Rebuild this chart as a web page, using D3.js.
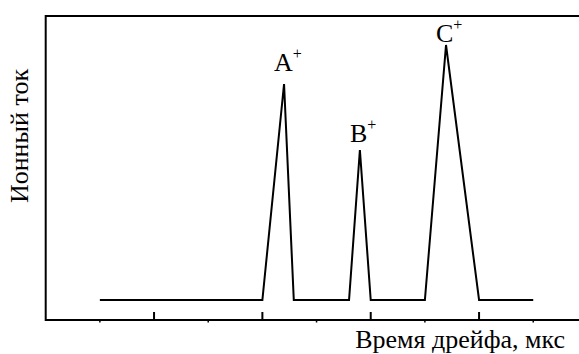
<!DOCTYPE html>
<html>
<head>
<meta charset="utf-8">
<script src="https://cdn.jsdelivr.net/npm/d3@7"></script>
</head>
<body style="margin:0">
<script>
// drift time (arbitrary units) and ion current
const driftTime = [1, 4, 4.4, 4.58, 5.6, 5.8, 6, 7, 7.39, 8, 9];
const ionCurrent = [1, 1, 11.8, 1, 1, 8.5, 1, 1, 13.75, 1, 1];

const peakNames = ["A", "B", "C"];
const peakTimes = [4.4, 5.8, 7.39];
const peakHeights = [11.8, 8.5, 13.75];

const majorTicks = [0, 2, 4, 6, 8];
const minorTicks = [1, 3, 5, 7, 9];

const xTitle = "Время дрейфа, мкс";
const yTitle = "Ионный ток";

const width = 579, height = 354;
const margin = {top: 16, left: 45.7, bottom: 34};
const serif = "Liberation Serif";

const svg = d3.select("body").append("svg")
    .attr("width", width)
    .attr("height", height);

const x = d3.scaleLinear()
    .domain([0, 10])
    .range([margin.left, margin.left + 10 * 54.17]);

const y = d3.scaleLinear()
    .domain([0, 15.2])
    .range([height - margin.bottom, margin.top]);

const y0 = y(0);

// frame: left, top, bottom (right side runs off the picture)
svg.append("path")
    .attr("d", `M${width + 2},${y(15.2)} H${x(0)} V${y0} H${width + 2}`)
    .attr("fill", "none")
    .attr("stroke", "#000")
    .attr("stroke-width", 2);

// major ticks point inward
svg.append("g")
    .selectAll("line")
    .data(majorTicks.slice(1))
    .join("line")
    .attr("x1", d => x(d)).attr("x2", d => x(d))
    .attr("y1", y0).attr("y2", y0 - 8)
    .attr("stroke", "#000")
    .attr("stroke-width", 2);

// minor ticks, tiny and outward
svg.append("g")
    .selectAll("line")
    .data(minorTicks)
    .join("line")
    .attr("x1", d => x(d)).attr("x2", d => x(d))
    .attr("y1", y0).attr("y2", y0 + 2.5)
    .attr("stroke", "#000")
    .attr("stroke-width", 1.5);

// the spectrum
const line = d3.line()
    .x((d, i) => x(driftTime[i]))
    .y(d => y(d));

svg.append("path")
    .datum(ionCurrent)
    .attr("d", line)
    .attr("fill", "none")
    .attr("stroke", "#000")
    .attr("stroke-width", 2)
    .attr("stroke-linejoin", "miter");

// peak labels, placed from the left edge (no text-anchor)
const labelLift = [13, 8, 3];
const labels = svg.append("g")
    .selectAll("text")
    .data(peakNames)
    .join("text")
    .attr("x", (d, i) => x(peakTimes[i]) - 10)
    .attr("y", (d, i) => y(peakHeights[i]) - labelLift[i])
    .attr("font-family", serif)
    .style("font-family", serif)
    .style("font-size", "26px");

labels.append("tspan").text(d => d);
labels.append("tspan")
    .text("+")
    .attr("dy", -12)
    .attr("font-family", serif)
    .style("font-family", serif)
    .style("font-size", "16px");

// x title, sized to fit the reference width
const xt = svg.append("text")
    .attr("y", 348)
    .attr("font-family", serif)
    .style("font-family", serif)
    .style("font-size", "26px")
    .text(xTitle);
let len = xt.node().getComputedTextLength();
const titleSize = len > 0 ? Math.min(26, 26 * 214 / len) : 24;
xt.style("font-size", titleSize + "px");
len = xt.node().getComputedTextLength();
xt.attr("x", 565 - len);

// y title, same size, centred on the frame
const yt = svg.append("text")
    .attr("font-family", serif)
    .style("font-family", serif)
    .style("font-size", titleSize + "px")
    .text(yTitle);
const yLen = yt.node().getComputedTextLength();
yt.attr("transform", `translate(28,${136 + yLen / 2}) rotate(-90)`);
</script>
</body>
</html>
